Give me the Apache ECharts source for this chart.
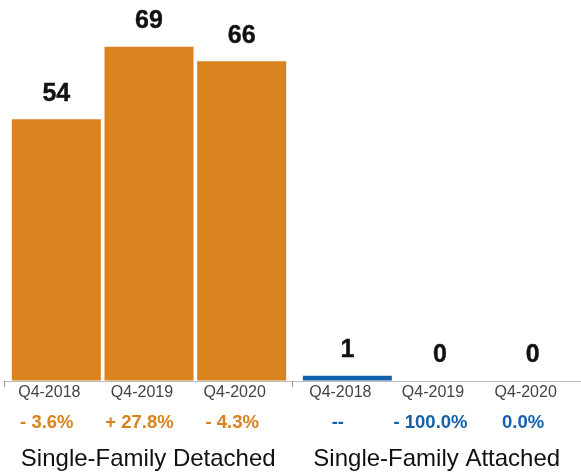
<!DOCTYPE html>
<html>
<head>
<meta charset="utf-8">
<script src="https://cdn.jsdelivr.net/npm/echarts@6/dist/echarts.min.js"></script>
<style>html,body{margin:0;padding:0;background:#fff}#c{width:581px;height:472px}</style>
</head>
<body>
<div id="c"></div>
<script>
const quarters = ['Q4-2018', 'Q4-2019', 'Q4-2020'];
const groups = ['Single-Family Detached', 'Single-Family Attached'];
const detachedValues = [54, 69, 66];
const attachedValues = [1, 0, 0];
const detachedChange = ['- 3.6%', '+ 27.8%', '- 4.3%'];
const attachedChange = ['--', '- 100.0%', '0.0%'];

const FONT = '"Liberation Sans", Arial, Helvetica, sans-serif';
const ORANGE = '#D9821E';
const BLUE = '#1560AB';

function quarterAxis(gridIndex, changes, color) {
  return {
    type: 'category', gridIndex, data: quarters,
    axisLine: { show: false }, axisTick: { show: false },
    axisLabel: {
      interval: 0, margin: 0.5, fontFamily: FONT,
      formatter: (v, i) => '{q|' + v + '}\n{p|' + changes[i] + '}',
      rich: {
        q: { fontSize: 16, color: '#444', lineHeight: 24, fontFamily: FONT, padding: [0, 14, 0, 0] },
        p: { fontSize: 18.5, fontWeight: 'bold', color: color, lineHeight: 36, fontFamily: FONT, padding: [0, 19, 0, 0] }
      }
    }
  };
}
function valueAxis(gridIndex) {
  return { type: 'value', gridIndex, min: 0, max: 70, show: false, splitLine: { show: false } };
}
function barSeries(idx, values, color) {
  return {
    type: 'bar', xAxisIndex: idx, yAxisIndex: idx, data: values, barWidth: 89,
    itemStyle: { color }, animation: false,
    label: { show: true, position: 'top', distance: 13, fontSize: 25, fontWeight: 'bold', color: '#111', fontFamily: FONT,
             textBorderColor: '#111', textBorderWidth: 0.4 }
  };
}

const chart = echarts.init(document.getElementById('c'), null, { renderer: 'canvas' });
chart.setOption({
  animation: false,
  grid: [
    { left: 10, width: 278, top: 42, bottom: 91.5 },
    { left: 301, width: 278, top: 42, bottom: 91.5 },
    { left: 4, width: 582, top: 42, bottom: 91 }
  ],
  xAxis: [
    quarterAxis(0, detachedChange, ORANGE),
    quarterAxis(1, attachedChange, BLUE),
    {
      type: 'category', gridIndex: 2, data: groups,
      axisLine: { show: true, lineStyle: { color: '#bbb', width: 1 } },
      axisTick: { show: true, interval: 0, length: 6, lineStyle: { color: '#999' } },
      axisLabel: { interval: 0, hideOverlap: false, margin: 66, fontSize: 24, color: '#111', fontFamily: FONT }
    }
  ],
  yAxis: [valueAxis(0), valueAxis(1), valueAxis(2)],
  series: [
    barSeries(0, detachedValues, ORANGE),
    barSeries(1, attachedValues, BLUE)
  ]
});
</script>
</body>
</html>
